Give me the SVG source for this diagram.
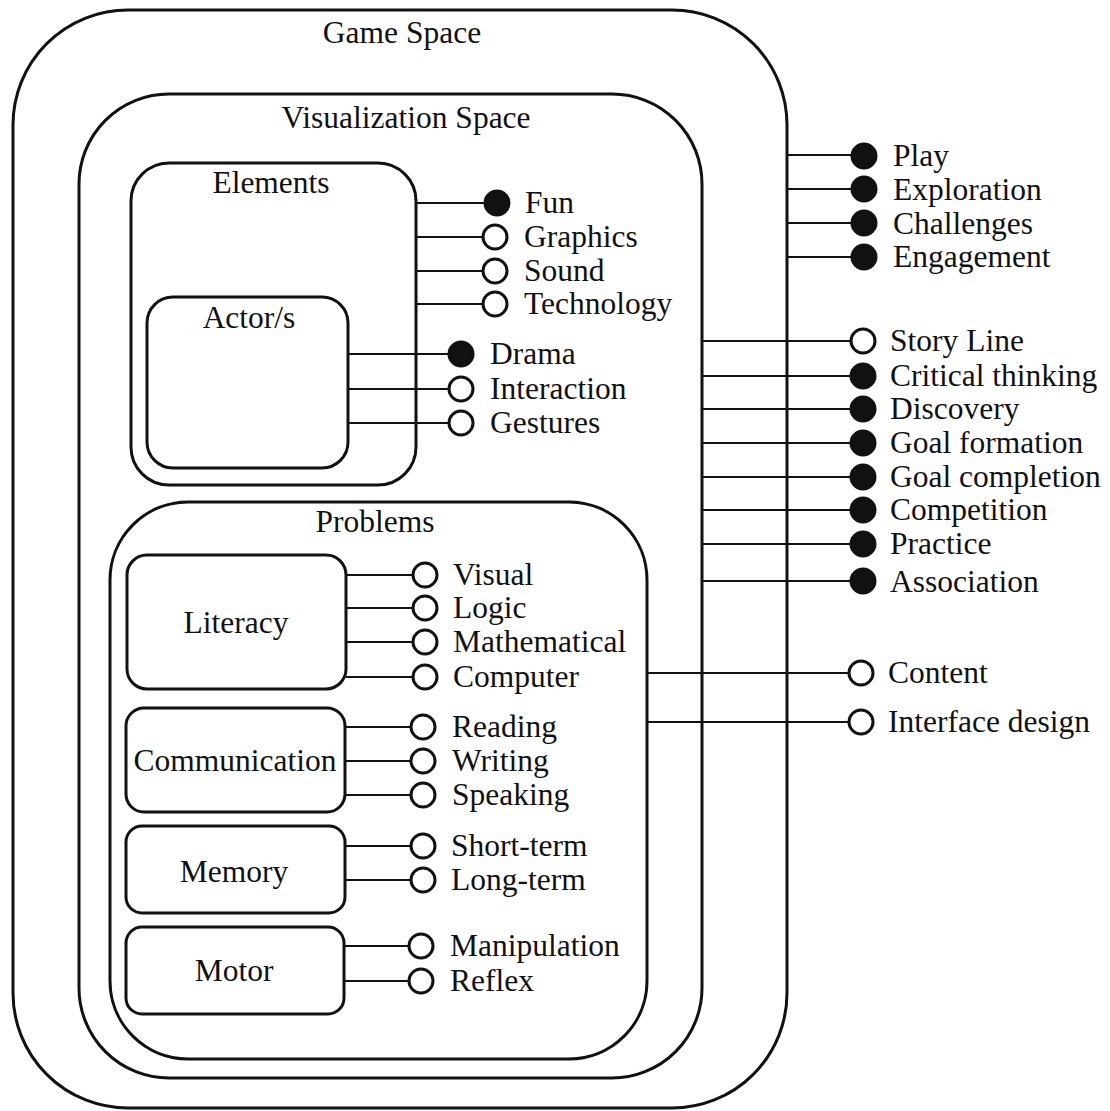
<svg xmlns="http://www.w3.org/2000/svg" width="1110" height="1111" viewBox="0 0 1110 1111">
<style>
.box{fill:none;stroke:#111;stroke-width:3}
.ln{stroke:#111;stroke-width:2;fill:none}
.on{fill:#111;stroke:#111;stroke-width:3}
.off{fill:#fff;stroke:#111;stroke-width:3}
text{font-family:"Liberation Serif","Times New Roman",serif;font-size:31.5px;fill:#111}
.c{text-anchor:middle}
</style>
<rect width="1110" height="1111" fill="#fff"/>
<g id="game-space">
<rect class="box" x="13" y="10" width="774" height="1098" rx="115" ry="115"/>
<text class="c" x="402" y="43">Game Space</text>
</g>
<g id="visualization-space">
<rect class="box" x="79" y="94" width="623" height="984" rx="90" ry="90"/>
<text class="c" x="406" y="128">Visualization Space</text>
</g>
<g id="elements">
<rect class="box" x="131" y="163" width="285" height="322" rx="38" ry="38"/>
<text class="c" x="271" y="193">Elements</text>
</g>
<g id="actors">
<rect class="box" x="147" y="297" width="201" height="171" rx="26" ry="26"/>
<text class="c" x="249" y="328">Actor/s</text>
</g>
<g id="problems">
<rect class="box" x="110" y="502" width="537" height="557" rx="78" ry="78"/>
<text class="c" x="375" y="532">Problems</text>
</g>
<g id="literacy">
<rect class="box" x="127" y="555" width="219" height="134" rx="20" ry="20"/>
<text class="c" x="236" y="633">Literacy</text>
</g>
<g id="communication">
<rect class="box" x="126" y="708" width="219" height="104" rx="18" ry="18"/>
<text class="c" x="235" y="771">Communication</text>
</g>
<g id="memory">
<rect class="box" x="126" y="826" width="219" height="87" rx="16" ry="16"/>
<text class="c" x="234" y="882">Memory</text>
</g>
<g id="motor">
<rect class="box" x="126" y="927" width="218" height="87" rx="16" ry="16"/>
<text class="c" x="234" y="981">Motor</text>
</g>
<g id="connectors">
<path class="ln" d="M787 155H851M787 189H851M787 223H851M787 257H851"/>
<path class="ln" d="M702 341H850M702 376H850M702 409H850M702 443H850M702 477H850M702 510H850M702 544H850M702 581H850"/>
<path class="ln" d="M647 673H849M647 722H849"/>
<path class="ln" d="M416 203H485M416 237H483M416 271H483M416 304H483"/>
<path class="ln" d="M348 354H449M348 389H449M348 423H449"/>
<path class="ln" d="M346 575H413M346 608H413M346 642H413M346 677H413"/>
<path class="ln" d="M345 727H411M345 761H411M345 795H411"/>
<path class="ln" d="M345 846H411M345 880H411"/>
<path class="ln" d="M344 946H409M344 981H409"/>
</g>
<g id="play"><circle class="on" cx="864" cy="156" r="12"/><text x="893" y="166">Play</text></g>
<g id="exploration"><circle class="on" cx="864" cy="189" r="12"/><text x="893" y="200">Exploration</text></g>
<g id="challenges"><circle class="on" cx="864" cy="223" r="12"/><text x="893" y="234">Challenges</text></g>
<g id="engagement"><circle class="on" cx="864" cy="257" r="12"/><text x="893" y="267">Engagement</text></g>
<g id="story-line"><circle class="off" cx="863" cy="341" r="12"/><text x="890" y="351">Story Line</text></g>
<g id="critical-thinking"><circle class="on" cx="863" cy="376" r="12"/><text x="890" y="386">Critical thinking</text></g>
<g id="discovery"><circle class="on" cx="863" cy="409" r="12"/><text x="890" y="419">Discovery</text></g>
<g id="goal-formation"><circle class="on" cx="863" cy="443" r="12"/><text x="890" y="453">Goal formation</text></g>
<g id="goal-completion"><circle class="on" cx="863" cy="477" r="12"/><text x="890" y="487">Goal completion</text></g>
<g id="competition"><circle class="on" cx="863" cy="510" r="12"/><text x="890" y="520">Competition</text></g>
<g id="practice"><circle class="on" cx="863" cy="544" r="12"/><text x="890" y="554">Practice</text></g>
<g id="association"><circle class="on" cx="863" cy="581" r="12"/><text x="890" y="592">Association</text></g>
<g id="content"><circle class="off" cx="861" cy="673" r="12"/><text x="888" y="683">Content</text></g>
<g id="interface-design"><circle class="off" cx="861" cy="722" r="12"/><text x="888" y="732">Interface design</text></g>
<g id="fun"><circle class="on" cx="497" cy="203" r="12"/><text x="525" y="213">Fun</text></g>
<g id="graphics"><circle class="off" cx="495" cy="237" r="12"/><text x="524" y="247">Graphics</text></g>
<g id="sound"><circle class="off" cx="495" cy="271" r="12"/><text x="524" y="281">Sound</text></g>
<g id="technology"><circle class="off" cx="495" cy="304" r="12"/><text x="524" y="314">Technology</text></g>
<g id="drama"><circle class="on" cx="461" cy="354" r="12"/><text x="490" y="364">Drama</text></g>
<g id="interaction"><circle class="off" cx="461" cy="389" r="12"/><text x="490" y="399">Interaction</text></g>
<g id="gestures"><circle class="off" cx="461" cy="423" r="12"/><text x="490" y="433">Gestures</text></g>
<g id="visual"><circle class="off" cx="425" cy="575" r="12"/><text x="453" y="585">Visual</text></g>
<g id="logic"><circle class="off" cx="425" cy="608" r="12"/><text x="453" y="618">Logic</text></g>
<g id="mathematical"><circle class="off" cx="425" cy="642" r="12"/><text x="453" y="652">Mathematical</text></g>
<g id="computer"><circle class="off" cx="425" cy="677" r="12"/><text x="453" y="687">Computer</text></g>
<g id="reading"><circle class="off" cx="423" cy="727" r="12"/><text x="452" y="737">Reading</text></g>
<g id="writing"><circle class="off" cx="423" cy="761" r="12"/><text x="452" y="771">Writing</text></g>
<g id="speaking"><circle class="off" cx="423" cy="795" r="12"/><text x="452" y="805">Speaking</text></g>
<g id="short-term"><circle class="off" cx="423" cy="846" r="12"/><text x="451" y="856">Short-term</text></g>
<g id="long-term"><circle class="off" cx="423" cy="880" r="12"/><text x="451" y="890">Long-term</text></g>
<g id="manipulation"><circle class="off" cx="421" cy="946" r="12"/><text x="450" y="956">Manipulation</text></g>
<g id="reflex"><circle class="off" cx="421" cy="981" r="12"/><text x="450" y="991">Reflex</text></g>
</svg>
